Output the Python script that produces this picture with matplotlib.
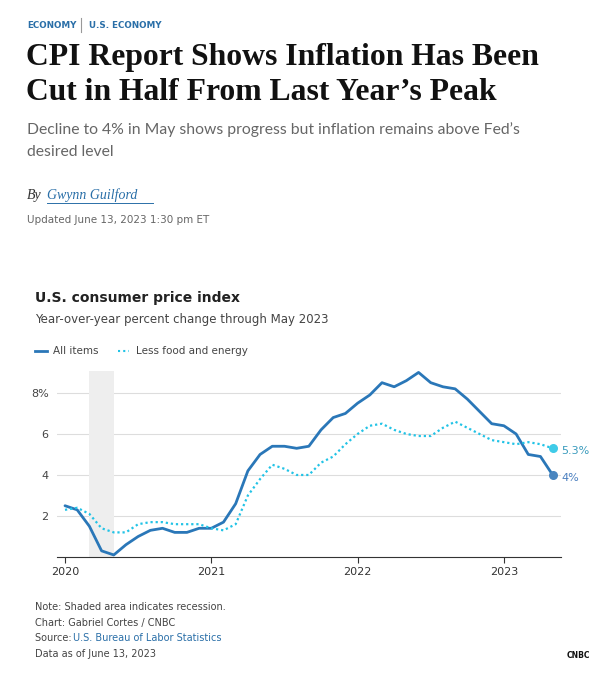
import matplotlib
matplotlib.use("Agg")
import matplotlib.pyplot as plt

import numpy as np

# monthly yoy % change, Jan 2020 - May 2023
all_items = [2.5, 2.3, 1.5, 0.3, 0.1, 0.6, 1.0, 1.3, 1.4, 1.2, 1.2, 1.4,
             1.4, 1.7, 2.6, 4.2, 5.0, 5.4, 5.4, 5.3, 5.4, 6.2, 6.8, 7.0,
             7.5, 7.9, 8.5, 8.3, 8.6, 9.0, 8.5, 8.3, 8.2, 7.7, 7.1, 6.5,
             6.4, 6.0, 5.0, 4.9, 4.0]
core = [2.3, 2.4, 2.1, 1.4, 1.2, 1.2, 1.6, 1.7, 1.7, 1.6, 1.6, 1.6,
        1.4, 1.3, 1.6, 3.0, 3.8, 4.5, 4.3, 4.0, 4.0, 4.6, 4.9, 5.5,
        6.0, 6.4, 6.5, 6.2, 6.0, 5.9, 5.9, 6.3, 6.6, 6.3, 6.0, 5.7,
        5.6, 5.5, 5.6, 5.5, 5.3]
years = [2020, 2021, 2022, 2023]
yticks = [2, 4, 6, 8]
ylabels = ["2", "4", "6", "8%"]
recession = (2020 + 2/12, 2020 + 4/12)

x = 2020 + np.arange(len(all_items)) / 12
blue, cyan, grey = "#2a77b8", "#22c3e6", "#555555"

fig = plt.figure(figsize=(6.14, 6.79), dpi=100)
W, H = 614, 679
def T(px, py, s, **kw):  # place text in pixel coords from top-left
    fig.text(px / W, 1 - py / H, s, **kw)

T(27, 25, "ECONOMY", color="#2a6fa8", fontsize=6.3, fontweight="bold", va="center", family="Liberation Sans Narrow")
fig.add_artist(plt.Line2D([81 / W] * 2, [1 - 18 / H, 1 - 32 / H], color="#999999", lw=0.8))
T(89, 25, "U.S. ECONOMY", color="#2a6fa8", fontsize=6.3, fontweight="bold", va="center", family="Liberation Sans Narrow")
T(26, 58, "CPI Report Shows Inflation Has Been", fontsize=22.8, fontweight="bold", family="Liberation Serif", va="center", color="#111111")
T(26, 93, "Cut in Half From Last Year\u2019s Peak", fontsize=22.8, fontweight="bold", family="Liberation Serif", va="center", color="#111111")
T(27, 130, "Decline to 4% in May shows progress but inflation remains above Fed\u2019s", fontsize=11.3, color="#666666", va="center", family="Lato")
T(27, 152, "desired level", fontsize=11.3, color="#666666", va="center", family="Lato")
T(27, 195, "By", fontsize=10, style="italic", family="Liberation Serif", va="center", color="#333333")
T(47, 195, "Gwynn Guilford", fontsize=10, style="italic", family="Liberation Serif", va="center", color="#2a6fa8")
fig.add_artist(plt.Line2D([47 / W, 153 / W], [1 - 203 / H] * 2, color="#2a6fa8", lw=0.7))
T(27, 220, "Updated June 13, 2023 1:30 pm ET", fontsize=7.5, color="#666666", va="center", family="Liberation Sans Narrow")

T(35, 298, "U.S. consumer price index", fontsize=10, fontweight="bold", va="center", color="#222222")
T(35, 320, "Year-over-year percent change through May 2023", fontsize=8.5, va="center", color="#444444")
fig.add_artist(plt.Line2D([35 / W, 47 / W], [1 - 351 / H] * 2, color=blue, lw=2))
T(53, 351, "All items", fontsize=7.5, va="center", color="#444444")
fig.add_artist(plt.Line2D([118 / W, 129 / W], [1 - 351 / H] * 2, color=cyan, lw=1.5, ls=(0, (1, 1.5))))
T(136, 351, "Less food and energy", fontsize=7.5, va="center", color="#444444")

ax = fig.add_axes([57 / W, 1 - 557 / H, (561 - 57) / W, (557 - 371) / H])
ax.axvspan(*recession, color="#eeeeee", lw=0)
for y in yticks:
    ax.axhline(y, color="#dddddd", lw=0.8, zorder=0)
ax.plot(x, all_items, color=blue, lw=2, solid_capstyle="round", clip_on=False)
ax.plot(x, core, color=cyan, lw=1.6, ls=(0, (1, 1.3)), clip_on=False)
ax.scatter([x[-1]], [all_items[-1]], color="#4a86c0", s=30, zorder=3)
ax.scatter([x[-1]], [core[-1]], color="#3fcbe8", s=30, zorder=3)
ax.text(x[-1] + 0.06, all_items[-1] - 0.15, "4%", color="#4a7fbf", fontsize=8, va="center")
ax.text(x[-1] + 0.06, core[-1] - 0.15, "5.3%", color="#3a9bbd", fontsize=8, va="center")
ax.set_xlim(2020 - 8 / 146.3, 2020 + 496 / 146.3)
ax.set_ylim(0, 9.07)
ax.set_xticks(years)
ax.set_xticklabels([str(y) for y in years])
ax.set_yticks(yticks)
ax.set_yticklabels(ylabels)
for s in ["top", "right", "left"]:
    ax.spines[s].set_visible(False)
ax.spines["bottom"].set_color("#333333")
ax.tick_params(axis="y", length=0, labelsize=8, labelcolor="#444444", pad=6)
ax.tick_params(axis="x", length=4, labelsize=8, labelcolor="#333333", color="#333333")

T(35, 607, "Note: Shaded area indicates recession.", fontsize=7, color="#444444", va="center")
T(35, 623, "Chart: Gabriel Cortes / CNBC", fontsize=7, color="#444444", va="center")
T(35, 638, "Source: ", fontsize=7, color="#444444", va="center")
T(73, 638, "U.S. Bureau of Labor Statistics", fontsize=7, color="#2a6fa8", va="center")
T(35, 654, "Data as of June 13, 2023", fontsize=7, color="#444444", va="center")
T(578, 656, "CNBC", fontsize=5.5, fontweight="bold", color="#111111", va="center", ha="center")

plt.savefig("out.png", dpi=100)
plt.close()
